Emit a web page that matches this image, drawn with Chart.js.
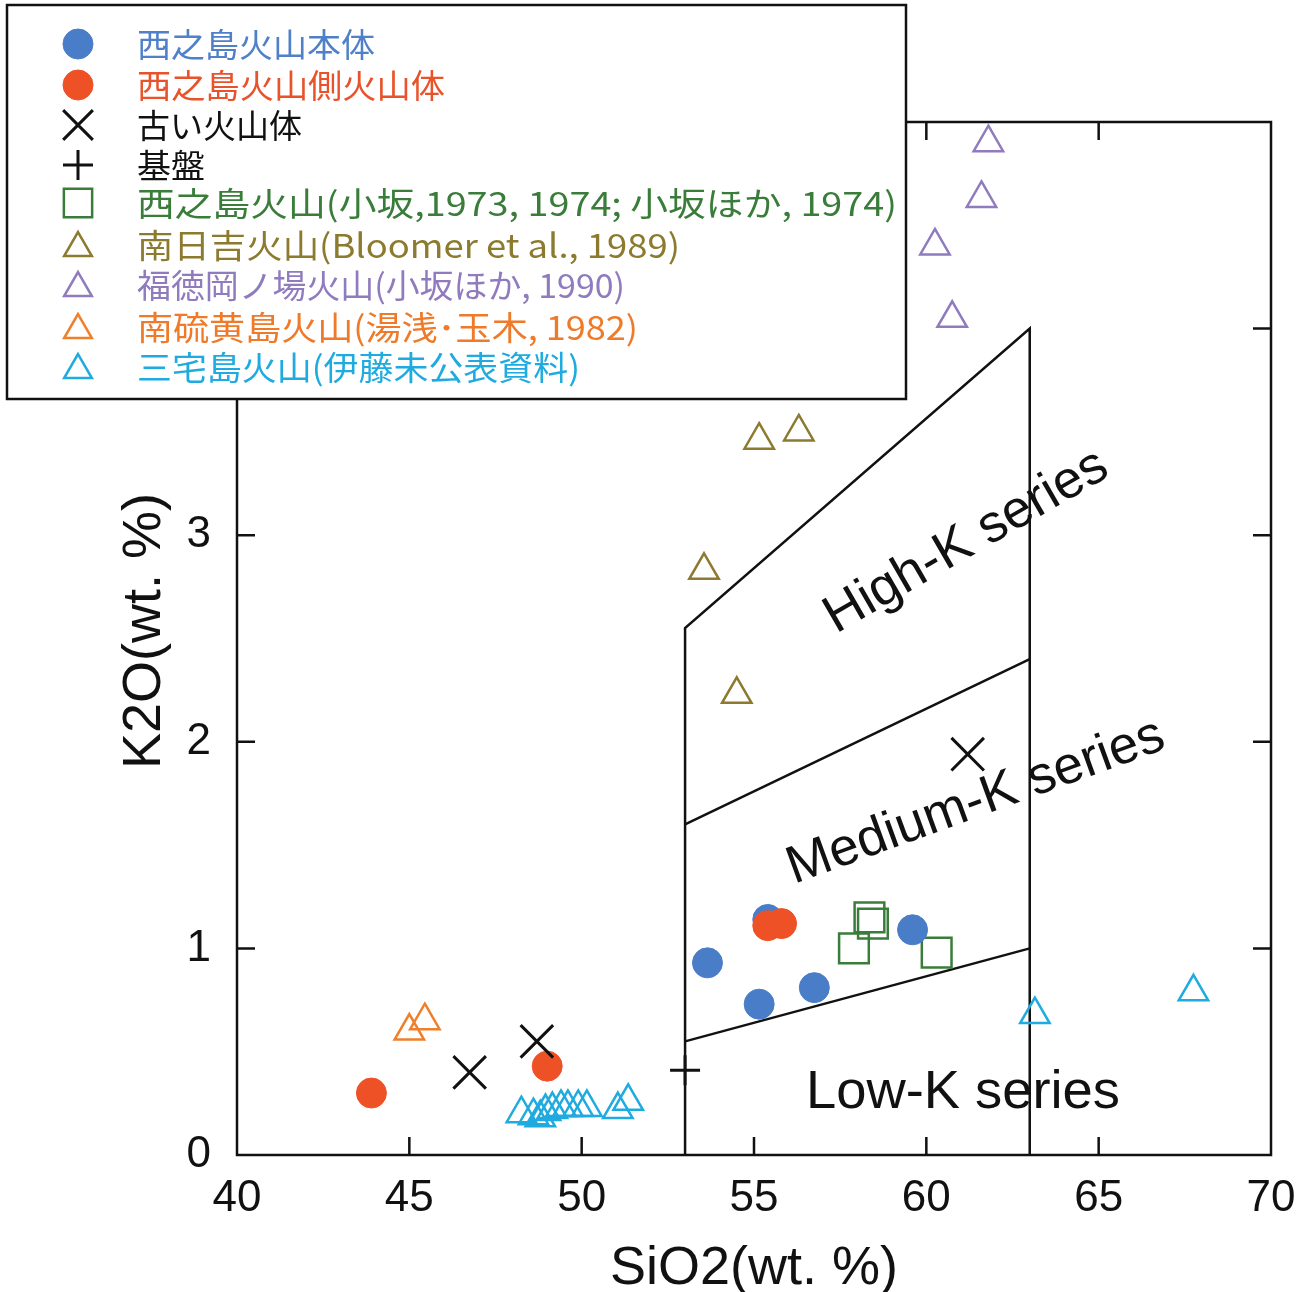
<!DOCTYPE html>
<html>
<head>
<meta charset="utf-8">
<script src="https://cdn.jsdelivr.net/npm/chart.js@4.4.0/dist/chart.umd.min.js"></script>
<style>
    html, body { margin: 0; padding: 0; background: #ffffff; }
    #wrap { width: 1310px; height: 1292px; }
</style>
</head>
<body>
<div id="wrap"><canvas id="k2oChart" width="1310" height="1292"></canvas></div>
<script>
/**
 * K2O - SiO2 diagram (西之島 and neighbouring volcanoes)
 */

// Nishinoshima main edifice
const mainSiO2 = [53.65, 55.15, 55.4, 56.75, 59.6];
const mainK2O = [0.93, 0.73, 1.14, 0.81, 1.09];

// Nishinoshima parasitic cones
const flankSiO2 = [43.9, 49.0, 55.4, 55.8];
const flankK2O = [0.30, 0.43, 1.11, 1.12];

// old volcanic body
const oldSiO2 = [46.75, 48.7, 61.2];
const oldK2O = [0.40, 0.55, 1.94];

// basement
const baseSiO2 = [53.0];
const baseK2O = [0.41];

// Nishinoshima (Kosaka 1973, 1974; Kosaka et al. 1974)
const kosakaSiO2 = [57.9, 58.35, 58.45, 60.3];
const kosakaK2O = [1.0, 1.15, 1.12, 0.98];

// Minami-Hiyoshi (Bloomer et al. 1989)
const hiyoshiSiO2 = [55.15, 56.3, 53.55, 54.5];
const hiyoshiK2O = [3.46, 3.50, 2.83, 2.23];

// Fukutoku-Okanoba (Kosaka et al. 1990)
const fukutokuSiO2 = [61.8, 61.6, 60.25, 60.75];
const fukutokuK2O = [4.90, 4.63, 4.40, 4.05];

// Minami-Iwojima (Yuasa & Tamaki 1982)
const iwojimaSiO2 = [45.0, 45.45];
const iwojimaK2O = [0.60, 0.65];

// Miyakejima (Ito, unpublished)
const miyakeSiO2 = [48.25, 48.6, 48.8, 48.95, 49.15, 49.4, 49.6, 49.9, 50.15, 51.05, 51.35, 63.15, 67.75];
const miyakeK2O = [0.20, 0.19, 0.18, 0.21, 0.22, 0.23, 0.23, 0.23, 0.23, 0.22, 0.26, 0.68, 0.79];

// classification field boundaries
const fieldOutlineSiO2 = [53, 53, 63, 63];
const fieldOutlineK2O = [0, 2.55, 4.0, 0];
const lowMediumSiO2 = [53, 63];
const lowMediumK2O = [0.55, 1.0];
const mediumHighSiO2 = [53, 63];
const mediumHighK2O = [1.6, 2.4];

const xTicks = [40, 45, 50, 55, 60, 65, 70];
const yTicks = [0, 1, 2, 3, 4, 5];

const legendLabels = [
    '西之島火山本体',
    '西之島火山側火山体',
    '古い火山体',
    '基盤',
    '西之島火山(小坂,1973, 1974; 小坂ほか, 1974)',
    '南日吉火山(Bloomer et al., 1989)',
    '福徳岡ノ場火山(小坂ほか, 1990)',
    '南硫黄島火山(湯浅･玉木, 1982)',
    '三宅島火山(伊藤未公表資料)'
];

const AXIS_FONT = '"Liberation Sans", Arial, sans-serif';
const CJK_FONT = '"Noto Sans CJK JP", "Noto Sans", sans-serif';

function pairs(xs, ys) {
    return xs.map((x, i) => ({ x: x, y: ys[i] }));
}

// marker style per legend row
const markers = [
    { style: 'circle', radius: 15, fill: '#4a7dc8', stroke: '#4a7dc8', width: 1, text: '#4f80c8' },
    { style: 'circle', radius: 15, fill: '#ef5127', stroke: '#ef5127', width: 1, text: '#e8532b' },
    { style: 'crossRot', radius: 23, fill: 'rgba(0,0,0,0)', stroke: '#111111', width: 3, text: '#111111' },
    { style: 'cross', radius: 15, fill: 'rgba(0,0,0,0)', stroke: '#111111', width: 3, text: '#111111' },
    { style: 'rect', radius: 21, fill: 'rgba(0,0,0,0)', stroke: '#3a7d3a', width: 2.5, text: '#3a7d3a' },
    { style: 'triangle', radius: 17, fill: 'rgba(0,0,0,0)', stroke: '#8c7b2e', width: 2.5, text: '#8c7b2e' },
    { style: 'triangle', radius: 17, fill: 'rgba(0,0,0,0)', stroke: '#8f7bbd', width: 2.5, text: '#8f7bbd' },
    { style: 'triangle', radius: 17, fill: 'rgba(0,0,0,0)', stroke: '#f07f2a', width: 2.5, text: '#ee7a2a' },
    { style: 'triangle', radius: 17, fill: 'rgba(0,0,0,0)', stroke: '#1fabdf', width: 2.5, text: '#1fabdf' }
];

function pointSet(label, data, m, order) {
    return {
        label: label,
        data: data,
        showLine: false,
        pointStyle: m.style,
        pointRadius: m.radius,
        pointHoverRadius: m.radius,
        pointBackgroundColor: m.fill,
        pointBorderColor: m.stroke,
        pointBorderWidth: m.width,
        clip: false,
        order: order
    };
}

function boundarySet(data) {
    return {
        label: '',
        data: data,
        showLine: true,
        borderColor: '#111111',
        borderWidth: 2.5,
        pointRadius: 0,
        fill: false,
        tension: 0,
        clip: false,
        order: 10
    };
}

const datasets = [
    boundarySet(pairs(fieldOutlineSiO2, fieldOutlineK2O)),
    boundarySet(pairs(lowMediumSiO2, lowMediumK2O)),
    boundarySet(pairs(mediumHighSiO2, mediumHighK2O)),
    pointSet(legendLabels[0], pairs(mainSiO2, mainK2O), markers[0], 3),
    pointSet(legendLabels[1], pairs(flankSiO2, flankK2O), markers[1], 2),
    pointSet(legendLabels[2], pairs(oldSiO2, oldK2O), markers[2], 1),
    pointSet(legendLabels[3], pairs(baseSiO2, baseK2O), markers[3], 1),
    pointSet(legendLabels[4], pairs(kosakaSiO2, kosakaK2O), markers[4], 4),
    pointSet(legendLabels[5], pairs(hiyoshiSiO2, hiyoshiK2O), markers[5], 4),
    pointSet(legendLabels[6], pairs(fukutokuSiO2, fukutokuK2O), markers[6], 4),
    pointSet(legendLabels[7], pairs(iwojimaSiO2, iwojimaK2O), markers[7], 4),
    pointSet(legendLabels[8], pairs(miyakeSiO2, miyakeK2O), markers[8], 4)
];

function drawMarker(ctx, m, x, y) {
    ctx.save();
    ctx.fillStyle = m.fill;
    ctx.strokeStyle = m.stroke;
    ctx.lineWidth = m.width;
    if (Chart.helpers && Chart.helpers.drawPoint) {
        Chart.helpers.drawPoint(ctx, { pointStyle: m.style, radius: m.radius, rotation: 0, borderWidth: m.width }, x, y);
    }
    ctx.restore();
}

// draw text stretched/squeezed horizontally to end at a given x
function fillFitted(ctx, text, x, y, right) {
    const w = ctx.measureText(text).width;
    const k = (right - x) / w;
    ctx.save();
    ctx.translate(x, y);
    ctx.scale(k, 1);
    ctx.fillText(text, 0, 0);
    ctx.restore();
}

// frame, inward ticks, axis titles, field labels and the boxed legend
const decorations = {
    id: 'decorations',
    afterDatasetsDraw(chart) {
        const ctx = chart.ctx;
        const a = chart.chartArea;
        const xs = chart.scales.x;
        const ys = chart.scales.y;
        const tickLen = 18;

        ctx.save();
        ctx.strokeStyle = '#111111';
        ctx.lineWidth = 2.5;
        ctx.strokeRect(a.left, a.top, a.right - a.left, a.bottom - a.top);

        ctx.beginPath();
        xTicks.slice(1, -1).forEach(v => {
            const px = xs.getPixelForValue(v);
            ctx.moveTo(px, a.bottom);
            ctx.lineTo(px, a.bottom - tickLen);
            ctx.moveTo(px, a.top);
            ctx.lineTo(px, a.top + tickLen);
        });
        yTicks.slice(1, -1).forEach(v => {
            const py = ys.getPixelForValue(v);
            ctx.moveTo(a.left, py);
            ctx.lineTo(a.left + tickLen, py);
            ctx.moveTo(a.right, py);
            ctx.lineTo(a.right - tickLen, py);
        });
        ctx.stroke();

        // axis titles
        ctx.fillStyle = '#111111';
        ctx.font = '54px ' + AXIS_FONT;
        ctx.textAlign = 'center';
        ctx.textBaseline = 'alphabetic';
        ctx.fillText('SiO2(wt. %)', (a.left + a.right) / 2, 1284);
        ctx.save();
        ctx.translate(160, 631);
        ctx.rotate(-Math.PI / 2);
        ctx.fillText('K2O(wt. %)', 0, 0);
        ctx.restore();

        // series field labels
        ctx.font = '53px ' + AXIS_FONT;
        ctx.textAlign = 'left';
        fillFitted(ctx, 'Low-K series', 806, 1108, 1120);
        ctx.save();
        ctx.translate(836, 634);
        ctx.rotate(-30 * Math.PI / 180);
        ctx.fillText('High-K series', 0, 0);
        ctx.restore();
        ctx.save();
        ctx.translate(794, 884);
        ctx.rotate(-20 * Math.PI / 180);
        ctx.fillText('Medium-K series', 0, 0);
        ctx.restore();
        ctx.restore();
    },
    afterDraw(chart) {
        const ctx = chart.ctx;
        ctx.save();
        ctx.fillStyle = '#ffffff';
        ctx.fillRect(7, 5, 899, 394);
        ctx.strokeStyle = '#111111';
        ctx.lineWidth = 2.5;
        ctx.strokeRect(7, 5, 899, 394);

        const rowY = [44, 85, 125, 165, 203, 245, 285, 327, 367];
        const rowRight = [375, 445, 302, 205, 897, 680, 625, 638, 580];
        ctx.font = '33px ' + CJK_FONT;
        ctx.textAlign = 'left';
        ctx.textBaseline = 'middle';
        legendLabels.forEach((label, i) => {
            const m = Object.assign({}, markers[i]);
            if (m.style === 'triangle') m.radius = 16;
            if (m.style === 'crossRot') m.radius = 21;
            if (m.style === 'rect') m.radius = 20;
            drawMarker(ctx, m, 78, rowY[i] + (m.style === 'triangle' ? 3 : 0));
            ctx.fillStyle = markers[i].text;
            fillFitted(ctx, label, 137, rowY[i], rowRight[i]);
        });
        ctx.restore();
    }
};

const ctx = document.getElementById('k2oChart').getContext('2d');

new Chart(ctx, {
    type: 'scatter',
    data: { datasets: datasets },
    options: {
        responsive: false,
        animation: false,
        devicePixelRatio: 1,
        layout: {
            padding: { top: 122, right: 39, left: 0, bottom: 0 }
        },
        plugins: {
            legend: { display: false },
            tooltip: { enabled: false }
        },
        scales: {
            x: {
                type: 'linear',
                min: 40,
                max: 70,
                afterFit: scale => {
                    scale.height = 137;
                    scale.paddingLeft = 0;
                    scale.paddingRight = 0;
                },
                afterBuildTicks: scale => { scale.ticks = xTicks.map(v => ({ value: v })); },
                grid: { display: false, drawTicks: false },
                border: { display: false },
                ticks: {
                    padding: 17,
                    color: '#111111',
                    font: { family: AXIS_FONT, size: 44 }
                }
            },
            y: {
                type: 'linear',
                min: 0,
                max: 5,
                afterFit: scale => {
                    scale.width = 237;
                    scale.paddingTop = 0;
                    scale.paddingBottom = 0;
                },
                afterBuildTicks: scale => { scale.ticks = yTicks.map(v => ({ value: v })); },
                grid: { display: false, drawTicks: false },
                border: { display: false },
                ticks: {
                    padding: 26,
                    color: '#111111',
                    font: { family: AXIS_FONT, size: 44 }
                }
            }
        }
    },
    plugins: [decorations]
});
</script>
</body>
</html>
